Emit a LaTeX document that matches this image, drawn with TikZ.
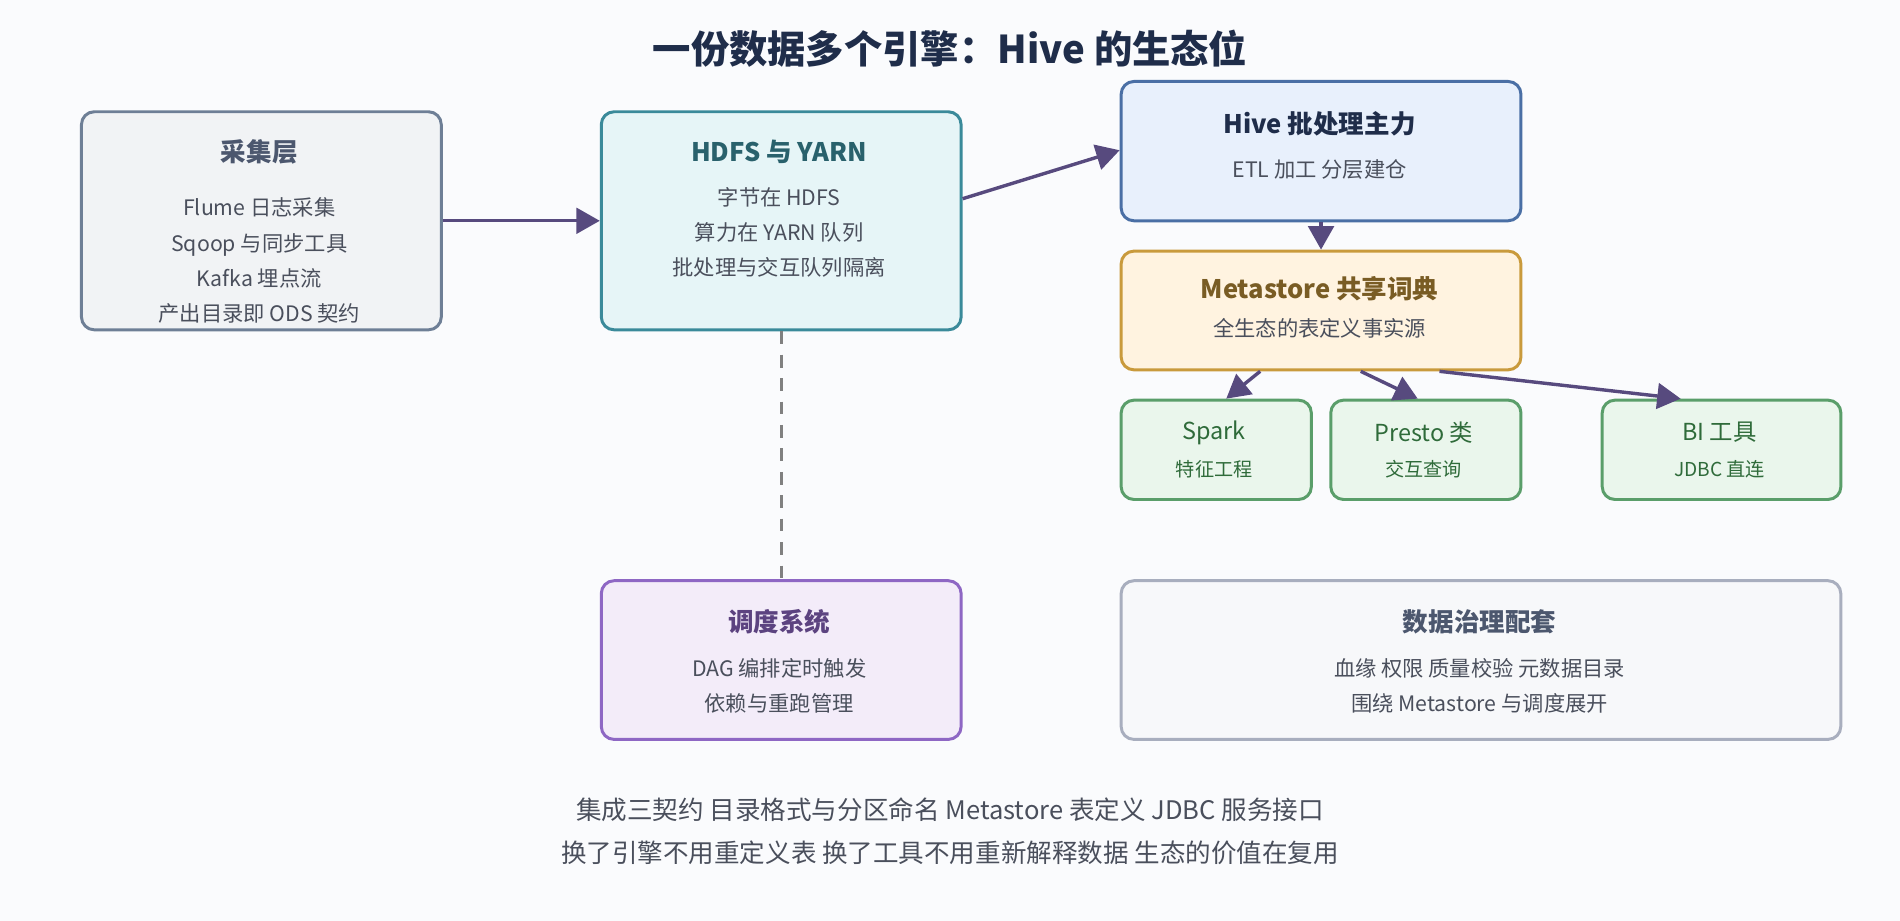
\documentclass[tikz,border=0pt]{standalone}
\usepackage{fontspec}
\setmainfont{Noto Sans CJK SC}
\usetikzlibrary{arrows.meta}
\definecolor{bgc}{HTML}{FAFBFD}
\definecolor{arr}{HTML}{574A7E}
\definecolor{ink}{HTML}{1F2D4A}
\definecolor{txt}{HTML}{4A4F5C}
\definecolor{grayb}{HTML}{6E7F96}
\definecolor{grayf}{HTML}{F1F3F5}
\definecolor{tealb}{HTML}{3A8A9A}
\definecolor{tealf}{HTML}{E6F5F7}
\definecolor{bluef}{HTML}{E8F0FC}
\definecolor{blueb}{HTML}{4A6FA5}
\definecolor{orab}{HTML}{C99A3C}
\definecolor{oraf}{HTML}{FFF3E0}
\definecolor{grnb}{HTML}{5A9E6A}
\definecolor{grnf}{HTML}{EAF6EC}
\definecolor{grnt}{HTML}{2F6B3A}
\definecolor{vioB}{HTML}{8E67C4}
\definecolor{vioF}{HTML}{F3ECF9}
\definecolor{govb}{HTML}{A8AEBE}
\definecolor{govf}{HTML}{F7F8FA}

\begin{document}
\begin{tikzpicture} [x=0.02cm, y=-0.02cm,
  box/.style={draw, line width=1.4pt, rounded corners=6pt, anchor=north west, inner sep=0pt},
  head/.style={font=\fontsize{12}{14}\selectfont\bfseries},
  body/.style={font=\fontsize{10}{16.5}\selectfont, text=txt, align=center},
  flow/.style={draw=arr, line width=1.6pt, -{Triangle[length=11pt, width=12pt]}}]
\fill[bgc] (0,0) rectangle (1568,760);
\path (784,40) node[font=\fontsize{18}{20}\selectfont\bfseries, text=ink] (title) {一份数据多个引擎：Hive 的生态位};

\path (66,91) node[box, draw=grayb, fill=grayf, minimum width=5.94cm, minimum height=3.6cm] (caiji) {}
      (495,91) node[box, draw=tealb, fill=tealf, minimum width=5.94cm, minimum height=3.6cm] (hdfs) {}
      (924,66) node[box, draw=blueb, fill=bluef, minimum width=6.6cm, minimum height=2.3cm] (hive) {}
      (924,206) node[box, draw=orab, fill=oraf, minimum width=6.6cm, minimum height=1.96cm] (meta) {}
      (924,329) node[box, draw=grnb, fill=grnf, minimum width=3.14cm, minimum height=1.64cm] (spark) {}
      (1097,329) node[box, draw=grnb, fill=grnf, minimum width=3.14cm, minimum height=1.64cm] (presto) {}
      (1321,329) node[box, draw=grnb, fill=grnf, minimum width=3.94cm, minimum height=1.64cm] (bi) {}
      (495,478) node[box, draw=vioB, fill=vioF, minimum width=5.94cm, minimum height=2.62cm] (sched) {}
      (924,478) node[box, draw=govb, fill=govf, minimum width=11.88cm, minimum height=2.62cm] (gov) {};

\path (214,125) node[head, text=ink!80] {采集层}
      (214,215) node[body] {Flume 日志采集\\Sqoop 与同步工具\\Kafka 埋点流\\产出目录即 ODS 契约}
      (643,125) node[head, text=tealb!70!black] {HDFS 与 YARN}
      (643,192) node[body] {字节在 HDFS\\算力在 YARN 队列\\批处理与交互队列隔离}
      (1089,102) node[head, text=ink] {Hive 批处理主力}
      (1089,140) node[body] {ETL 加工 分层建仓}
      (1089,238) node[head, text=orab!60!black] {Metastore 共享词典}
      (1089,271) node[body] {全生态的表定义事实源}
      (1002,357) node[font=\fontsize{11}{13}\selectfont, text=grnt] {Spark}
      (1002,387) node[font=\fontsize{9}{10}\selectfont, text=grnt] {特征工程}
      (1175,357) node[font=\fontsize{11}{13}\selectfont, text=grnt] {Presto 类}
      (1175,387) node[font=\fontsize{9}{10}\selectfont, text=grnt] {交互查询}
      (1419,357) node[font=\fontsize{11}{13}\selectfont, text=grnt] {BI 工具}
      (1419,387) node[font=\fontsize{9}{10}\selectfont, text=grnt] {JDBC 直连}
      (643,513) node[head, text=vioB!65!black] {调度系统}
      (643,566) node[body] {DAG 编排定时触发\\依赖与重跑管理}
      (1221,513) node[head, text=ink!80] {数据治理配套}
      (1221,566) node[body] {血缘 权限 质量校验 元数据目录\\围绕 Metastore 与调度展开}
      (784,686) node[font=\fontsize{12}{20.5}\selectfont, text=txt, align=center] (foot) {集成三契约 目录格式与分区命名 Metastore 表定义 JDBC 服务接口\\换了引擎不用重定义表 换了工具不用重新解释数据 生态的价值在复用};

\draw[flow] (caiji.east) -- (hdfs.west);
\draw[flow] (hdfs.north east) ++(0,73) -- ([yshift=-1.16cm]hive.north west);
\draw[flow] (hive.south) -- (meta.north);
\draw[flow] ([xshift=2.32cm]meta.south west) -- ([xshift=1.76cm]spark.north west);
\draw[flow] ([xshift=3.98cm]meta.south west) -- ([xshift=1.46cm]presto.north west);
\draw[flow] ([xshift=5.28cm]meta.south west) -- ([xshift=1.32cm]bi.north west);
\draw[gray, line width=1.3pt, dash pattern=on 6pt off 5pt] (hdfs.south) -- (sched.north);
\end{tikzpicture}
\end{document}
